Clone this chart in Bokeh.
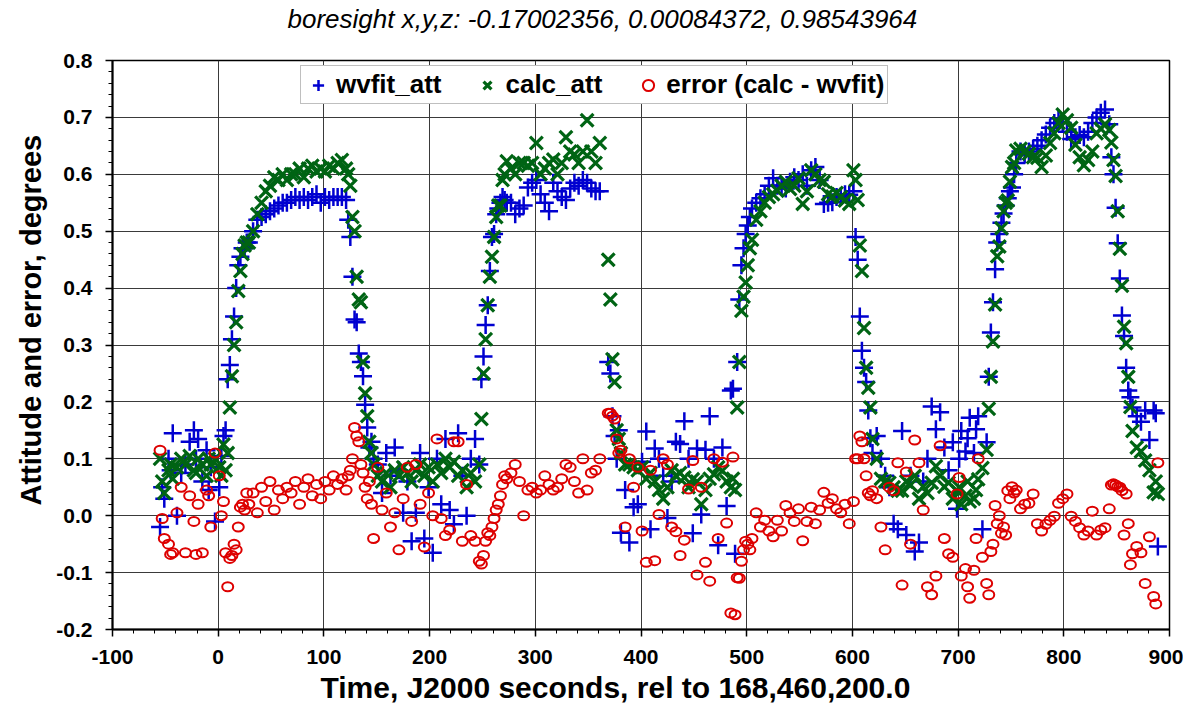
from bokeh.plotting import figure
from bokeh.models import (FixedTicker, PrintfTickFormatter, Legend, LegendItem, Range1d, Title)
from bokeh.embed import file_html
from bokeh.resources import INLINE

# ---------------- data ----------------
time_s = [
    -55, -53, -51, -47, -45, -43, -39, -35, -31, -27, -23, -21, -19, -15, -11, -9, -7, -3, 1, 3, 5,
    7, 9, 11, 13, 15, 17, 19, 21, 23, 25, 27,
    29, 33, 37, 41, 45, 49, 53, 57, 61, 65, 69, 73, 77, 81, 85, 89, 93, 97, 101, 105, 109, 113, 117, 121,
    123, 125, 127, 129, 131, 133, 135, 137, 139, 141, 143, 145, 147,
    151, 155, 159, 163, 167, 171, 175, 179, 183, 187, 191, 195, 199, 203, 207, 211, 215, 219, 223, 227, 231, 235, 239, 243, 247,
    249, 251, 253, 255, 257, 259, 261, 263, 265, 267, 269, 271,
    273, 277, 281, 285, 289, 293, 297, 301, 305, 309, 313, 317, 321, 325, 329, 333, 337, 341, 345, 349, 353, 357, 361,
    369, 371, 373, 375, 377, 379,
    381, 385, 389, 393, 397, 401, 405, 409, 413, 417, 421, 425, 429, 433, 437, 441, 445, 449, 453, 457, 461, 465, 469, 473, 477, 481, 485, 489,
    487, 491, 493, 495, 497, 499, 501, 503,
    505, 509, 513, 517, 521, 525, 529, 533, 537, 541, 545, 549, 553, 557, 561, 565, 569, 573, 577, 581, 585, 589, 593, 597, 601,
    603, 605, 607, 609, 611, 613, 615, 617, 619,
    623, 627, 631, 635, 639, 643, 647, 651, 655, 659, 663, 667, 671, 675, 679, 683, 687, 691, 695, 699, 703, 707, 711, 715, 719, 723, 727,
    701, 709, 717,
    729, 731, 733, 735, 737, 739, 741, 743, 745, 747, 749, 751, 753, 755,
    759, 763, 767, 771, 775, 779, 783, 787, 791, 795, 799, 803, 807, 811, 815, 819, 823, 827, 831, 835, 839, 843,
    845, 847, 849, 851, 853, 855, 857, 859, 861, 863, 865, 869, 873, 877, 881, 885, 887, 889,
]

wvfit_att = [
    -0.02, 0.05, 0.03, 0.10, 0.08, 0.145, 0.0, 0.075, 0.09, 0.13, 0.15, 0.10, 0.135, 0.06, 0.115, 0.045, 0.085, -0.01, 0.05, 0.105, 0.14,
    0.15, 0.24, 0.265, 0.31, 0.35, 0.40, 0.44, 0.455, 0.47, 0.47, 0.48,
    0.48, 0.50, 0.52, 0.525, 0.53, 0.535, 0.54, 0.545, 0.55, 0.55, 0.555, 0.56, 0.555, 0.56, 0.555, 0.56, 0.565, 0.55, 0.56, 0.555, 0.56, 0.56, 0.56, 0.555,
    0.52, 0.49, 0.42, 0.345, 0.34, 0.285, 0.27, 0.245, 0.195, 0.155, 0.12, 0.13, 0.10,
    0.09, 0.04, 0.11, 0.07, 0.12, 0.08, 0.005, 0.06, -0.045, 0.005, 0.11, -0.04, 0.05, -0.065, 0.10, 0.02, 0.135, 0.01, -0.015, 0.145, 0.07, 0.0, 0.10, 0.135, 0.09,
    0.24, 0.28, 0.335, 0.37, 0.43, 0.49, 0.495, 0.53, 0.54, 0.55, 0.56, 0.555,
    0.55, 0.55, 0.53, 0.54, 0.545, 0.577, 0.585, 0.59, 0.565, 0.55, 0.535, 0.585, 0.57, 0.56, 0.555, 0.575, 0.585, 0.58, 0.59, 0.585, 0.575, 0.57, 0.57,
    0.27, 0.25, 0.175, 0.14, 0.10, 0.15,
    -0.03, 0.045, -0.047, 0.015, 0.02, 0.095, 0.148, -0.024, 0.118, 0.10, 0.07, -0.004, 0.06, 0.13, 0.126, 0.166, 0.10, -0.031, 0.118, 0.002, 0.116, 0.175, 0.10, -0.052, 0.12, 0.017, 0.22, -0.067,
    0.223, 0.27, 0.38, 0.44, 0.47, 0.495, 0.51, 0.525,
    0.54, 0.55, 0.558, 0.565, 0.58, 0.593, 0.58, 0.58, 0.575, 0.587, 0.595, 0.59, 0.60, 0.58, 0.607, 0.613, 0.59, 0.548, 0.55, 0.551, 0.56, 0.561, 0.565, 0.564, 0.57,
    0.49, 0.45, 0.35, 0.29, 0.26, 0.235, 0.185, 0.136, 0.11,
    0.14, 0.10, 0.07, 0.05, -0.014, -0.024, 0.149, -0.034, 0.07, -0.063, -0.047, 0.06, 0.10, 0.192, 0.152, 0.182, 0.12, 0.08, 0.129, 0.012, 0.149, 0.113, 0.172, 0.11, 0.175, -0.024, 0.129,
    0.10, 0.136, 0.152,
    0.244, 0.322, 0.375, 0.433, 0.48, 0.495, 0.515, 0.531, 0.545, 0.558, 0.57, 0.577, 0.60, 0.62,
    0.64, 0.635, 0.64, 0.645, 0.65, 0.66, 0.67, 0.682, 0.69, 0.698, 0.69, 0.675, 0.662, 0.665, 0.669, 0.665, 0.675, 0.69, 0.70, 0.708, 0.714, 0.688,
    0.63, 0.60, 0.541, 0.479, 0.417, 0.352, 0.316, 0.26, 0.22, 0.208, 0.19, 0.175, 0.165, 0.185, 0.133, 0.185, 0.18, -0.054,
]

calc_att = [
    0.10, 0.06, 0.04, 0.08, 0.09, 0.065, 0.085, 0.10, 0.09, 0.105, 0.08, 0.075, 0.10, 0.09, 0.07, 0.10, 0.09, 0.10, 0.085, 0.07, 0.125,
    0.08, 0.11, 0.19, 0.245, 0.30, 0.34, 0.395, 0.43, 0.46, 0.475, 0.48,
    0.48, 0.50, 0.53, 0.55, 0.57, 0.58, 0.595, 0.59, 0.60, 0.59, 0.60, 0.60, 0.61, 0.595, 0.61, 0.615, 0.605, 0.61, 0.605, 0.615, 0.61, 0.62, 0.625, 0.61,
    0.60, 0.58, 0.525, 0.50, 0.42, 0.38, 0.375, 0.27, 0.215, 0.175, 0.13, 0.11, 0.09,
    0.07, 0.06, 0.075, 0.05, 0.08, 0.07, 0.085, 0.075, 0.06, 0.08, 0.09, 0.07, 0.085, 0.06, 0.09, 0.075, 0.10, 0.085, 0.095, 0.07, 0.08, 0.05, 0.075, 0.06, 0.09,
    0.17, 0.25, 0.31, 0.37, 0.42, 0.455, 0.49, 0.525, 0.545, 0.545, 0.59, 0.60,
    0.623, 0.61, 0.60, 0.62, 0.62, 0.615, 0.62, 0.655, 0.60, 0.61, 0.62, 0.626, 0.60, 0.62, 0.665, 0.64, 0.635, 0.62, 0.64, 0.695, 0.64, 0.62, 0.655,
    0.45, 0.38, 0.275, 0.235, 0.15, 0.135,
    0.11, 0.09, 0.09, 0.085, 0.08, 0.085, 0.065, 0.075, 0.06, 0.045, 0.03, 0.05, 0.08, 0.07, 0.075, 0.067, 0.05, 0.064, 0.06, 0.02, 0.045, 0.065, 0.073, 0.085, 0.079, 0.06, 0.05, 0.045,
    0.065, 0.19, 0.27, 0.36, 0.385, 0.41, 0.44, 0.47,
    0.485, 0.52, 0.535, 0.55, 0.56, 0.565, 0.571, 0.58, 0.587, 0.574, 0.58, 0.593, 0.548, 0.57, 0.607, 0.60, 0.59, 0.587, 0.565, 0.561, 0.567, 0.56, 0.554, 0.548, 0.607,
    0.59, 0.555, 0.475, 0.43, 0.33, 0.26, 0.225, 0.19, 0.135,
    0.10, 0.065, 0.06, 0.058, 0.05, 0.044, 0.044, 0.06, 0.054, 0.07, 0.03, 0.051, 0.04, 0.058, 0.087, 0.07, 0.051, 0.058, 0.03, 0.044, 0.02, 0.035, 0.025, 0.03, 0.064, 0.084, 0.116,
    0.05, 0.06, 0.045,
    0.188, 0.244, 0.306, 0.371, 0.456, 0.473, 0.505, 0.535, 0.55, 0.554, 0.587, 0.613, 0.62, 0.642,
    0.645, 0.64, 0.636, 0.63, 0.629, 0.613, 0.633, 0.655, 0.672, 0.69, 0.705, 0.695, 0.682, 0.652, 0.63, 0.616, 0.625, 0.64, 0.672, 0.68, 0.688, 0.678,
    0.656, 0.625, 0.597, 0.535, 0.469, 0.404, 0.332, 0.303, 0.244, 0.191, 0.149, 0.12, 0.113, 0.097, 0.08, 0.041, 0.06, 0.038,
]

error_deg = [
    0.115, -0.005, -0.04, -0.05, -0.068, -0.065, 0.005, 0.05, -0.065, 0.035, -0.01, -0.068, 0.02, -0.065, 0.045, 0.035, -0.02, 0.11, 0.07, 0.0, 0.025,
    -0.065, -0.125, -0.075, -0.07, -0.05, -0.06, -0.02, 0.015, 0.02, 0.01, 0.04,
    0.02, 0.04, 0.005, 0.05, 0.025, 0.06, 0.01, 0.045, 0.03, 0.05, 0.04, 0.06, 0.02, 0.05, 0.065, 0.035, 0.055, 0.03, 0.06, 0.045, 0.07, 0.055, 0.065, 0.045,
    0.07, 0.08, 0.10, 0.155, 0.14, 0.13, 0.09, 0.075, 0.05, 0.03, 0.06, 0.02, -0.04,
    0.085, 0.01, 0.04, -0.02, 0.005, -0.06, 0.03, 0.085, -0.01, 0.09, 0.02, -0.055, 0.04, 0.0, 0.135, -0.005, -0.035, -0.025, 0.13, 0.13, -0.045, 0.055, -0.035, -0.045, -0.08,
    -0.085, -0.07, -0.045, -0.03, -0.035, -0.02, -0.005, 0.01, 0.02, 0.035, 0.055, 0.07,
    0.065, 0.075, 0.09, 0.06, 0.0, 0.045, 0.05, 0.04, 0.045, 0.07, 0.055, 0.045, 0.05, 0.065, 0.09, 0.085, 0.06, 0.04, 0.10, 0.045, 0.075, 0.08, 0.10,
    0.18, 0.18, 0.175, 0.17, 0.135, 0.11,
    0.115, -0.02, 0.10, 0.05, 0.085, -0.027, -0.082, 0.08, -0.079, 0.002, 0.10, 0.09, -0.02, -0.028, -0.07, -0.043, 0.047, 0.097, -0.104, 0.05, -0.082, -0.115, 0.10, -0.04, 0.094, -0.013, -0.171, -0.174,
    0.103, -0.109, -0.11, -0.08, -0.06, -0.045, -0.05, -0.06,
    -0.04, 0.005, -0.02, -0.008, -0.027, -0.037, -0.008, -0.027, 0.018, 0.005, -0.01, 0.012, -0.044, -0.01, 0.015, -0.014, 0.01, 0.041, 0.022, 0.03, 0.012, 0.005, 0.02, -0.014, 0.025,
    0.10, 0.10, 0.14, 0.13, 0.10, 0.07, 0.04, 0.035, 0.044,
    0.03, -0.02, -0.06, 0.05, 0.044, 0.093, -0.122, 0.077, -0.05, 0.133, 0.093, 0.01, -0.125, -0.139, -0.106, 0.123, -0.04, -0.067, -0.073, 0.038, -0.106, -0.093, -0.145, -0.096, 0.10, -0.073, -0.119,
    0.067, -0.125, -0.04,
    -0.139, -0.063, -0.05, 0.018, -0.014, 0.0, -0.031, -0.02, -0.034, 0.044, 0.03, 0.051, 0.04, 0.045,
    0.012, 0.02, 0.022, 0.038, -0.014, -0.027, -0.015, -0.008, -0.001, 0.022, 0.03, 0.038, -0.001, -0.01, -0.021, -0.034, -0.027, 0.008, -0.034, -0.025, -0.021, 0.012,
    0.054, 0.056, 0.054, 0.051, 0.05, 0.044, -0.034, 0.038, -0.014, -0.086, -0.067, -0.054, -0.065, -0.119, -0.037, -0.142, -0.155, 0.093,
]

x_ticks = [-100, 0, 100, 200, 300, 400, 500, 600, 700, 800, 900]
y_ticks = [-0.2, -0.1, 0.0, 0.1, 0.2, 0.3, 0.4, 0.5, 0.6, 0.7, 0.8]
x_minor = [v for v in range(-100, 901, 20)]
y_minor = [round(-0.2 + 0.02 * i, 2) for i in range(51)]

title_text = "boresight x,y,z: -0.17002356, 0.00084372, 0.98543964"
x_label = "Time, J2000 seconds, rel to 168,460,200.0"
y_label = "Attitude and error, degrees"
series_labels = ["wvfit_att", "calc_att", "error (calc - wvfit)"]

# ---------------- styling ----------------
FONT = "Liberation Sans"
BLUE = "#0000d0"
GREEN = "#006414"
RED = "#dd0000"

p = figure(width=1183, height=715, output_backend="svg", toolbar_location=None,
           x_range=Range1d(-100, 900), y_range=Range1d(-0.2, 0.8))
p.title_location = None
p.min_border_left = 112
p.min_border_right = 14
p.min_border_top = 60
p.min_border_bottom = 86
p.background_fill_color = "white"
p.border_fill_color = "white"
p.outline_line_color = "black"
p.outline_line_width = 1.5

xt = FixedTicker(ticks=x_ticks, minor_ticks=x_minor)
yt = FixedTicker(ticks=y_ticks, minor_ticks=y_minor)
p.xaxis.ticker = xt
p.yaxis.ticker = yt
p.xgrid.ticker = xt
p.ygrid.ticker = yt
p.xaxis.formatter = PrintfTickFormatter(format="%d")
p.yaxis.formatter = PrintfTickFormatter(format="%.1f")

for ax in (p.xaxis, p.yaxis):
    ax.axis_line_color = "black"
    ax.axis_line_width = 2
    ax.major_tick_line_color = "black"
    ax.minor_tick_line_color = "black"
    ax.major_tick_line_width = 1.5
    ax.minor_tick_line_width = 1
    ax.major_tick_in = 0
    ax.major_tick_out = 7
    ax.minor_tick_in = 0
    ax.minor_tick_out = 4
    ax.major_label_text_font = FONT
    ax.major_label_text_font_style = "bold"
    ax.major_label_text_font_size = "21px"
    ax.major_label_text_color = "black"
p.xaxis.major_label_standoff = 13
p.yaxis.major_label_standoff = 13

# axis titles and chart title as side-panel titles (for exact placement)
x_title = Title(text=x_label, align="left", offset=208, vertical_align="top", standoff=8,
                text_font=FONT, text_font_style="bold", text_font_size="30px", text_color="black")
p.add_layout(x_title, "below")
y_title = Title(text=y_label, align="left", offset=124, vertical_align="middle", standoff=11,
                text_font=FONT, text_font_style="bold", text_font_size="29px", text_color="black")
p.add_layout(y_title, "left")
spacer = Title(text=" ", text_font_size="2px", standoff=22)
p.add_layout(spacer, "above")
main_title = Title(text=title_text, align="left", offset=175, vertical_align="middle", standoff=0,
                   text_font=FONT, text_font_style="italic", text_font_size="26px", text_color="black")
p.add_layout(main_title, "above")

for g in (p.xgrid, p.ygrid):
    g.grid_line_color = "#3a3a3a"
    g.grid_line_width = 1
    g.grid_line_alpha = 1.0

r_w = p.scatter(time_s, wvfit_att, marker="cross", size=18, line_color=BLUE, line_width=2.5)
r_c = p.scatter(time_s, calc_att, marker="x", size=18, line_color=GREEN, line_width=3.2)
r_e = p.ellipse(x=time_s, y=error_deg, width=11, height=9, width_units="screen",
                height_units="screen", fill_color=None, line_color=RED, line_width=2)
# legend-only glyph for the error series (small upright "o")
r_e_key = p.scatter([float("nan")], [float("nan")], marker="circle", size=8,
                    fill_color=None, line_color=RED, line_width=2)

legend = Legend(items=[LegendItem(label=series_labels[0], renderers=[r_w]),
                       LegendItem(label=series_labels[1], renderers=[r_c]),
                       LegendItem(label=series_labels[2], renderers=[r_e_key])],
                orientation="horizontal", location=(188, 525))
legend.label_text_font = FONT
legend.label_text_font_style = "bold"
legend.label_text_font_size = "26px"
legend.label_text_color = "black"
legend.label_text_line_height = 1.0
legend.border_line_color = "#808080"
legend.border_line_width = 1.5
legend.background_fill_color = "white"
legend.background_fill_alpha = 1.0
legend.spacing = 32
legend.padding = 3
legend.margin = 0
legend.glyph_width = 28
legend.glyph_height = 28
legend.label_standoff = 4
legend.label_height = 28
p.add_layout(legend)

open("out.html", "w").write(file_html(p, INLINE))
